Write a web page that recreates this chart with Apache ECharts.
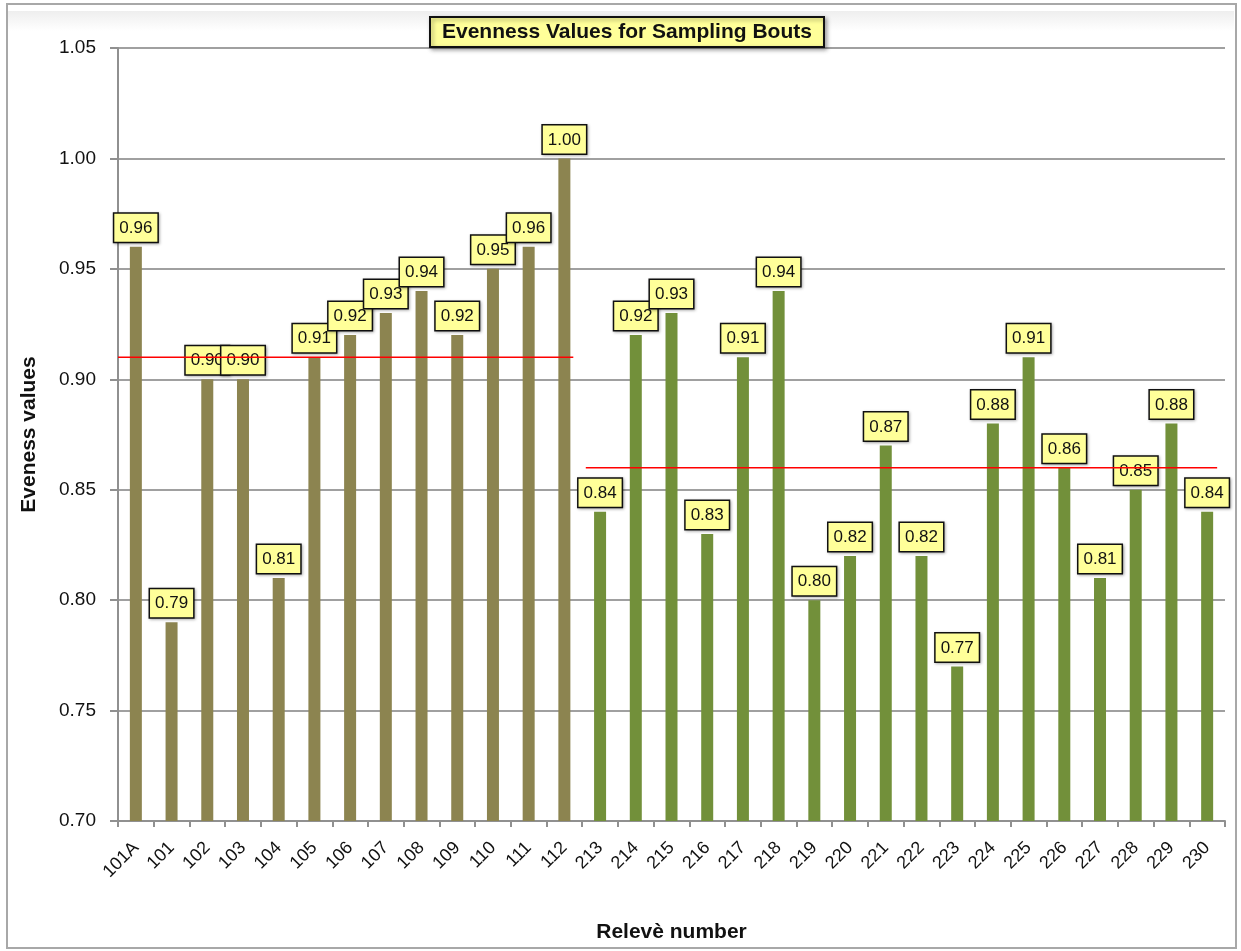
<!DOCTYPE html>
<html><head><meta charset="utf-8">
<script src="https://cdn.jsdelivr.net/npm/echarts@6/dist/echarts.min.js"></script>
<style>html,body{margin:0;padding:0;background:#fff}#c{width:1241px;height:951px}</style>
</head><body><div id="c"></div>
<script>
const categories = ['101A','101','102','103','104','105','106','107','108','109','110','111','112',
  '213','214','215','216','217','218','219','220','221','222','223','224','225','226','227','228','229','230'];
const values = [0.96,0.79,0.90,0.90,0.81,0.91,0.92,0.93,0.94,0.92,0.95,0.96,1.00,
  0.84,0.92,0.93,0.83,0.91,0.94,0.80,0.82,0.87,0.82,0.77,0.88,0.91,0.86,0.81,0.85,0.88,0.84];
const groupSizes = [13, 18];
const groupMeans = [0.91, 0.86];
const yTicks = [0.70, 0.75, 0.80, 0.85, 0.90, 0.95, 1.00, 1.05];

const groupColors = ['#8C8450', '#72903A'];
const n = categories.length;
const FONT = 'Liberation Sans, Arial, sans-serif';
const barData = values.map((v, i) => ({
  value: v,
  itemStyle: { color: groupColors[i < groupSizes[0] ? 0 : 1] }
}));
const mean1 = [[0, groupMeans[0]], [groupSizes[0] - 0.25, groupMeans[0]]];
const mean2 = [[groupSizes[0] + 0.1, groupMeans[1]], [n - 0.22, groupMeans[1]]];

const chart = echarts.init(document.getElementById('c'), null, { renderer: 'canvas' });
chart.setOption({
  backgroundColor: '#fff',
  animation: false,
  graphic: [
    { type: 'rect', shape: { x: 7, y: 4, width: 1229, height: 944 },
      style: { fill: 'none', stroke: '#a8a8a8', lineWidth: 2 }, z: -10 },
    { type: 'rect', shape: { x: 8, y: 11, width: 1226, height: 20 },
      style: { fill: new echarts.graphic.LinearGradient(0, 0, 0, 1, [
        { offset: 0, color: '#eeeeee' }, { offset: 1, color: '#ffffff' }]) }, z: -9 }
  ],
  title: {
    text: 'Evenness Values for Sampling Bouts',
    left: 430, top: 17,
    backgroundColor: '#FFFF99',
    borderColor: '#111', borderWidth: 2,
    padding: [5, 12, 4, 12],
    shadowColor: 'rgba(0,0,0,0.35)', shadowBlur: 4, shadowOffsetX: 2, shadowOffsetY: 2,
    textStyle: { fontFamily: FONT, fontSize: 21, fontWeight: 'bold', color: '#111' }
  },
  grid: { left: 118, right: 16, top: 48, bottom: 130 },
  xAxis: [{
    type: 'category', data: categories, boundaryGap: true,
    name: 'Relevè number', nameLocation: 'middle', nameGap: 101,
    nameTextStyle: { fontFamily: FONT, fontSize: 21, fontWeight: 'bold', color: '#111' },
    axisLine: { lineStyle: { color: '#909090', width: 2 } },
    axisTick: { show: true, interval: 0, length: 6, lineStyle: { color: '#909090', width: 2 } },
    axisLabel: { interval: 0, rotate: 45, margin: 24, fontSize: 18, color: '#111', fontFamily: FONT }
  }, {
    type: 'value', min: 0, max: n, show: false
  }],
  yAxis: {
    type: 'value', min: yTicks[0], max: yTicks[yTicks.length - 1], interval: 0.05,
    name: 'Eveness values', nameLocation: 'middle', nameGap: 78, nameRotate: 90,
    nameTextStyle: { fontFamily: FONT, fontSize: 21, fontWeight: 'bold', color: '#111' },
    axisLine: { show: true, lineStyle: { color: '#909090', width: 2 } },
    axisTick: { show: true, length: 8, lineStyle: { color: '#909090', width: 2 } },
    axisLabel: { margin: 22, fontSize: 19, color: '#111', fontFamily: FONT,
      formatter: v => v.toFixed(2) },
    splitLine: { lineStyle: { color: '#a0a0a0', width: 2 } }
  },
  series: [{
    type: 'bar', data: barData, barWidth: 12,
    label: {
      show: true, position: 'top', distance: 5,
      formatter: p => p.value.toFixed(2),
      backgroundColor: '#FFFF99', borderColor: '#111', borderWidth: 1.5,
      padding: [6, 5, 5, 5],
      shadowColor: 'rgba(0,0,0,0.3)', shadowBlur: 3, shadowOffsetX: 1, shadowOffsetY: 1,
      fontSize: 17, color: '#111', fontFamily: FONT
    }
  }, {
    type: 'line', xAxisIndex: 1, data: mean1, symbol: 'none', z: 20,
    lineStyle: { color: '#ff0000', width: 1.5 }
  }, {
    type: 'line', xAxisIndex: 1, data: mean2, symbol: 'none', z: 20,
    lineStyle: { color: '#ff0000', width: 1.5 }
  }]
});
</script></body></html>
